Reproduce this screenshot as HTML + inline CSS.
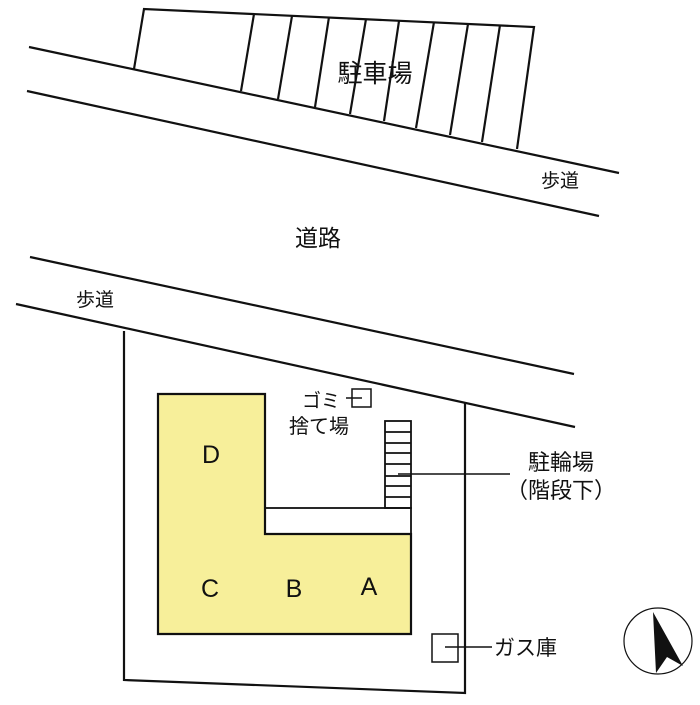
<!DOCTYPE html>
<html><head><meta charset="utf-8"><style>
html,body{margin:0;padding:0;background:#fff;}
svg text{font-family:"Liberation Sans","Noto Sans CJK JP",sans-serif;fill:#111;}
</style></head><body>
<svg width="700" height="700" viewBox="0 0 700 700" xmlns="http://www.w3.org/2000/svg">
<g stroke="#111" stroke-width="2.2" fill="none">
<!-- roads -->
<line x1="29" y1="47" x2="619" y2="173"/>
<line x1="27" y1="91" x2="599" y2="216"/>
<line x1="30" y1="257" x2="574" y2="374"/>
<line x1="16" y1="304" x2="575" y2="427"/>
<!-- parking -->
<polyline points="134,69 144,9 534,27 517,149"/>
<line x1="254" y1="14" x2="241" y2="91"/>
<line x1="292" y1="16" x2="278" y2="99"/>
<line x1="329" y1="17" x2="315" y2="107"/>
<line x1="366" y1="19" x2="350" y2="114"/>
<line x1="399" y1="21" x2="384" y2="121"/>
<line x1="434" y1="22" x2="416" y2="128"/>
<line x1="468" y1="24" x2="450" y2="135"/>
<line x1="500" y1="25" x2="482" y2="142"/>
<!-- property -->
<polyline points="124,331 124,680 465,693 465,403"/>
</g>
<!-- building -->
<polygon points="158,394 265,394 265,534 411,534 411,634 158,634" fill="#f7ef9a" stroke="#111" stroke-width="2.2"/>
<g stroke="#111" stroke-width="1.8" fill="none">
<rect x="265" y="508" width="146" height="26"/>
<rect x="385" y="421" width="26" height="87"/>
<line x1="385" y1="432" x2="411" y2="432"/>
<line x1="385" y1="443" x2="411" y2="443"/>
<line x1="385" y1="453" x2="411" y2="453"/>
<line x1="385" y1="464" x2="411" y2="464"/>
<line x1="385" y1="476" x2="411" y2="476"/>
<line x1="385" y1="486" x2="411" y2="486"/>
<line x1="385" y1="497" x2="411" y2="497"/>
<line x1="398" y1="474" x2="510" y2="474" stroke-width="1.5"/>
<rect x="352" y="389" width="19" height="18" stroke-width="1.5"/>
<line x1="346" y1="398" x2="362" y2="398" stroke-width="1.5"/>
<rect x="432" y="634" width="26" height="28" stroke-width="1.5"/>
<line x1="445" y1="647" x2="492" y2="647" stroke-width="1.5"/>
<ellipse cx="658" cy="641" rx="34" ry="33" stroke-width="1.2"/>
</g>
<polygon points="653,612 683,666 667,657 656,673" fill="#111"/>
<text x="375" y="82" font-size="25" text-anchor="middle">駐車場</text>
<text x="560" y="187" font-size="19" text-anchor="middle">歩道</text>
<text x="318" y="246" font-size="23" text-anchor="middle">道路</text>
<text x="95" y="306" font-size="19" text-anchor="middle">歩道</text>
<text x="321" y="407" font-size="19" text-anchor="middle">ゴミ</text>
<text x="319" y="433" font-size="20" text-anchor="middle">捨て場</text>
<text x="561" y="470" font-size="22" text-anchor="middle">駐輪場</text>
<text x="561" y="498" font-size="22" text-anchor="middle">（階段下）</text>
<text x="494" y="655" font-size="21">ガス庫</text>
<text x="211" y="463" font-size="25" text-anchor="middle">D</text>
<text x="210" y="597" font-size="25" text-anchor="middle">C</text>
<text x="294" y="597" font-size="25" text-anchor="middle">B</text>
<text x="369" y="595" font-size="25" text-anchor="middle">A</text>
</svg>
</body></html>
